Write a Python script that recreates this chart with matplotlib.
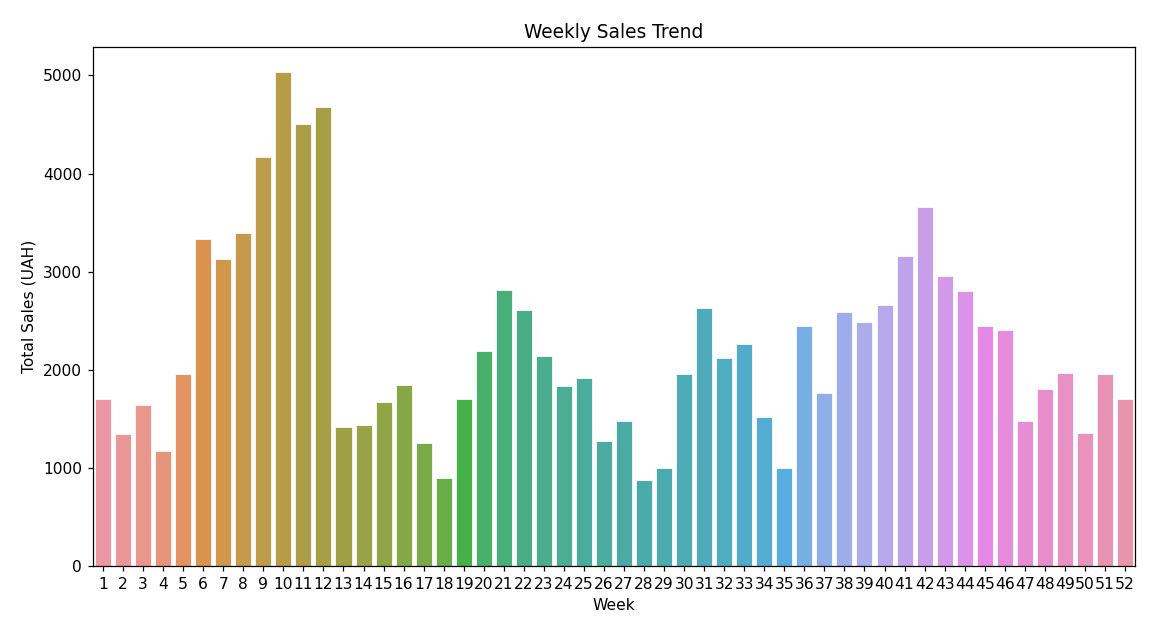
import numpy as np
import matplotlib
matplotlib.use('Agg')
import matplotlib.pyplot as plt
import seaborn as sns

# 주별 매출 데이터
weeks = list(range(1, 53))
sales = [1703, 1341, 1636, 1168, 1960, 3332, 3128, 3399, 4166, 5039,
         4504, 4683, 1418, 1432, 1675, 1847, 1249, 894, 1703, 2189,
         2818, 2614, 2143, 1833, 1914, 1274, 1478, 880, 996, 1960,
         2625, 2122, 2266, 1520, 996, 2449, 1763, 2586, 2484, 2657,
         3160, 3663, 2952, 2804, 2449, 2403, 1478, 1809, 1970, 1351,
         1960, 1703]

# seaborn 기본 husl 팔레트 (채도 0.75)
colors = [sns.desaturate(c, 0.75) for c in sns.husl_palette(len(weeks), l=.7)]

DPI = 112
fig = plt.figure(figsize=(1173 / DPI, 637 / DPI), dpi=DPI)
ax = fig.add_axes([0.0793, 0.1115, 0.8883, 0.8147])

x = np.arange(len(weeks))
ax.bar(x, sales, width=0.8, color=colors, edgecolor='white', linewidth=0.5)
ax.set_xticks(x)
ax.set_xticklabels([str(w) for w in weeks])
ax.set_xlim(-0.5, len(weeks) - 0.5)
ax.set_ylim(0, 5290)

ax.set_title('Weekly Sales Trend')
ax.set_xlabel('Week')
ax.set_ylabel('Total Sales (UAH)')

fig.savefig('out.png', dpi=DPI)
